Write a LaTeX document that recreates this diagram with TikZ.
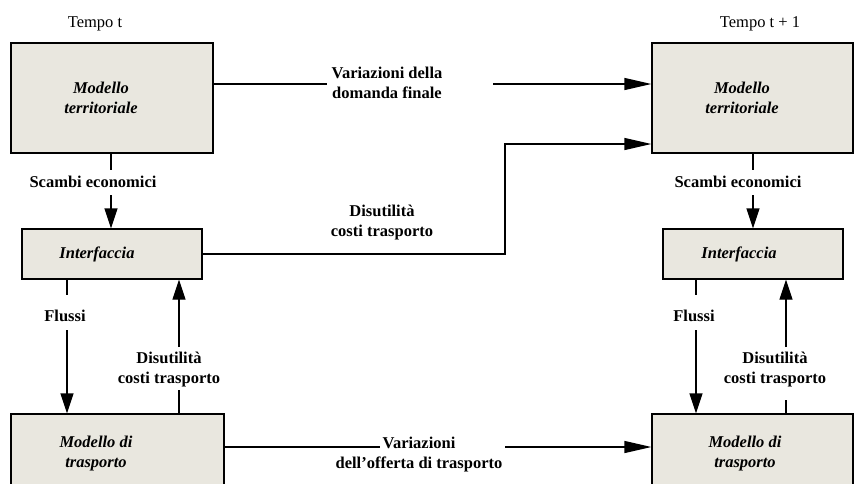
\documentclass[tikz,border=0pt]{standalone}
\usepackage{fontspec}
\setmainfont{Liberation Serif}
\usetikzlibrary{arrows.meta}
\definecolor{boxfill}{RGB}{233,231,223}
\begin{document}
\begin{tikzpicture}[x=1pt,y=-1pt,line width=1.3pt,
  box/.style n args={2}{draw,fill=boxfill,minimum width=#1,minimum height=#2,inner sep=0pt},
  boxtxt/.style={font=\fontsize{16.5}{20}\selectfont\bfseries\itshape,align=center,inner sep=0pt},
  lab/.style={font=\fontsize{16.5}{20}\selectfont\bfseries,align=center,inner sep=0pt},
  tempo/.style={font=\fontsize{16.5}{20}\selectfont,inner sep=0pt,anchor=base},
  arrV/.style={-{Triangle[length=20pt,width=13pt]}},
  arrH/.style={-{Triangle[length=27pt,width=12pt]}}]
\useasboundingbox (0,0) rectangle (854,483);
\clip (0,0) rectangle (854,483);

% time labels
\node[tempo] (t0) at (95,27) {Tempo t};
\node[tempo] (t1) at (760,27) {Tempo t + 1};

% boxes
\node[box={202pt}{110pt}] (lt) at (112,98) {};
\node[box={201pt}{110pt}] (rt) at (752.5,98) {};
\node[box={180pt}{50pt}] (li) at (112,254) {};
\node[box={180pt}{50pt}] (ri) at (753,254) {};
\node[box={213pt}{82pt}] (lb) at (117.5,455) {};
\node[box={201pt}{82pt}] (rb) at (752.5,455) {};

% box texts
\node[boxtxt] (ltt) at (101,97.5) {Modello\\territoriale};
\node[boxtxt] (rtt) at (742,97.5) {Modello\\territoriale};
\node[boxtxt,anchor=base] (lit) at (97,258) {Interfaccia};
\node[boxtxt,anchor=base] (rit) at (739,258) {Interfaccia};
\node[boxtxt] (lbt) at (96,454) {Modello di\\trasporto};
\node[boxtxt] (rbt) at (745,454) {Modello di\\trasporto};

% top: variazioni della domanda finale
\node[lab] (vd) at (387,83) {Variazioni della\\domanda finale};
\coordinate (g1) at (327,84);
\coordinate (g2) at (493,84);
\draw (g1 -| lt.east) -- (g1);
\draw[arrH] (g2) -- (g2 -| rt.west);

% middle: disutilita costi trasporto
\node[lab] (dm) at (382,223) {Disutilità\\costi trasporto};
\coordinate (m) at (505,144);
\draw[arrH] (li.east) -| (m) -- (m -| rt.west);

% bottom: variazioni dell'offerta di trasporto
\node[lab] (vo) at (419,455) {Variazioni\\dell'offerta di trasporto};
\coordinate (b1) at (380,447);
\coordinate (b2) at (505,447);
\draw (b1 -| lb.east) -- (b1);
\draw[arrH] (b2) -- (b2 -| rb.west);

% left column
\node[lab,anchor=base] (sl) at (93,187) {Scambi economici};
\coordinate (sla) at (111,170);
\coordinate (slb) at (111,195);
\draw (sla |- lt.south) -- (sla);
\draw[arrV] (slb) -- (slb |- li.north);

\node[lab,anchor=base] (fl) at (65,321) {Flussi};
\coordinate (fla) at (67,295);
\coordinate (flb) at (67,330);
\draw (fla |- li.south) -- (fla);
\draw[arrV] (flb) -- (flb |- lb.north);

\node[lab] (dl) at (169,370) {Disutilità\\costi trasporto};
\coordinate (dla) at (179,390);
\coordinate (dlb) at (179,347);
\draw (dla |- lb.north) -- (dla);
\draw[arrV] (dlb) -- (dlb |- li.south);

% right column
\node[lab,anchor=base] (sr) at (738,187) {Scambi economici};
\coordinate (sra) at (753,170);
\coordinate (srb) at (753,195);
\draw (sra |- rt.south) -- (sra);
\draw[arrV] (srb) -- (srb |- ri.north);

\node[lab,anchor=base] (fr) at (694,321) {Flussi};
\coordinate (fra) at (696,295);
\coordinate (frb) at (696,330);
\draw (fra |- ri.south) -- (fra);
\draw[arrV] (frb) -- (frb |- rb.north);

\node[lab] (dr) at (775,370) {Disutilità\\costi trasporto};
\coordinate (dra) at (786,400);
\coordinate (drb) at (786,347);
\draw (dra |- rb.north) -- (dra);
\draw[arrV] (drb) -- (drb |- ri.south);
\end{tikzpicture}
\end{document}
